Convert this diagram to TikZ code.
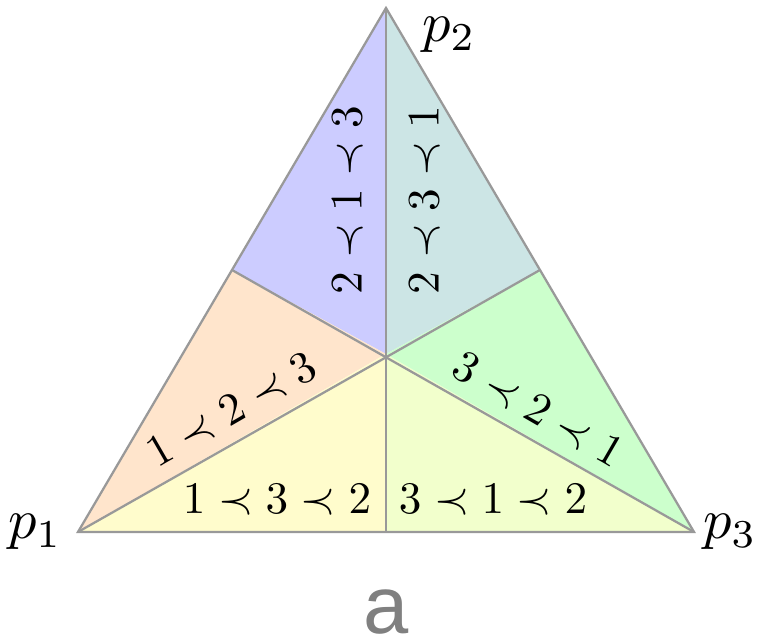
\documentclass[tikz,border=0pt]{standalone}
\usepackage{fontspec}
\newfontfamily\capfont{Liberation Sans}
\begin{document}
\begin{tikzpicture}[x=0.778cm,y=0.778cm,
  edge/.style={gray!80,line width=0.5pt},
  vlabel/.style={scale=1.25}]
	\useasboundingbox (-0.78,-1.07) rectangle (6.80,5.32);
	\coordinate (P1) at (0,0);
	\coordinate (P2) at (3.08,5.24);
	\coordinate (P3) at (6.16,0);
	\coordinate (O) at (3.08,1.78);
	\coordinate (M12) at (1.54,2.62);
	\coordinate (M23) at (4.62,2.62);
	\coordinate (M13) at (3.08,0);
	% the six regions
	\fill[blue!20] (P2) -- (O) -- (M12) -- cycle;
	\fill[teal!20] (P2) -- (O) -- (M23) -- cycle;
	\fill[orange!20] (P1) -- (O) -- (M12) -- cycle;
	\fill[yellow!20] (P1) -- (O) -- (M13) -- cycle;
	\fill[lime!20] (P3) -- (O) -- (M13) -- cycle;
	\fill[green!20] (P3) -- (O) -- (M23) -- cycle;
	\draw[edge] (P1) -- (P2) -- (P3) -- cycle;
	\draw[edge] (P1) -- (M23);
	\draw[edge] (P2) -- (M13);
	\draw[edge] (P3) -- (M12);
	% orderings
	\node[rotate=90,inner sep=0pt] (r213) at (2.70,3.32) {$2\prec1\prec3$};
	\node[rotate=90,inner sep=0pt] (r231) at (3.47,3.32) {$2\prec3\prec1$};
	\node[rotate=30,inner sep=0pt] (r123) at (1.54,1.22) {$1\prec2\prec3$};
	\node[rotate=-30,inner sep=0pt] (r321) at (4.60,1.22) {$3\prec2\prec1$};
	\node[inner sep=0pt] (r132) at (1.99,0.32) {$1\prec3\prec2$};
	\node[inner sep=0pt] (r312) at (4.15,0.32) {$3\prec1\prec2$};
	\node[vlabel] (l1) at (-0.43,0) {$p_1$};
	\node[vlabel] (l2) at (3.71,4.97) {$p_2$};
	\node[vlabel] (l3) at (6.52,0) {$p_3$};
	\node[gray,inner sep=0pt,font=\capfont\fontsize{18}{20}\selectfont] (cap) at (3.08,-0.80) {a};
\end{tikzpicture}
\end{document}
